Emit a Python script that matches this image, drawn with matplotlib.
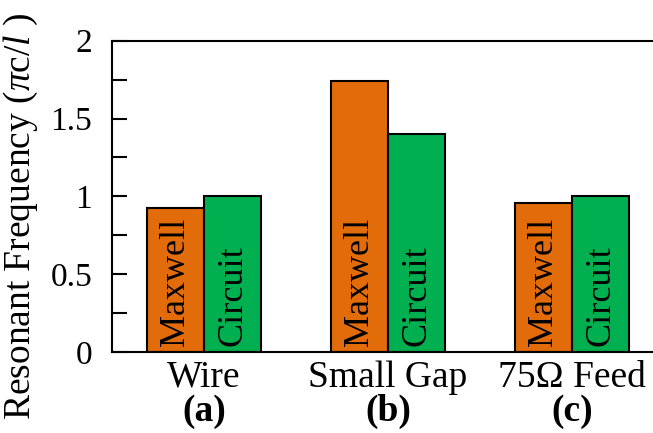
import numpy as np
import matplotlib.pyplot as plt

plt.rcParams["font.family"] = "Liberation Serif"
plt.rcParams["mathtext.fontset"] = "custom"
plt.rcParams["mathtext.rm"] = "Liberation Serif"
plt.rcParams["mathtext.it"] = "Liberation Serif:italic"

categories = ["Wire", "Small Gap", "75\u03a9 Feed"]
letters = ["(a)", "(b)", "(c)"]
maxwell = [0.925, 1.74, 0.955]
circuit = [1.005, 1.40, 1.005]
series_names = ["Maxwell", "Circuit"]

orange = "#E36C0A"
green = "#00B050"

fig = plt.figure(figsize=(6.53, 4.33), dpi=100)
ax = fig.add_axes([0.171, 0.187, 0.829, 0.719])

x = np.arange(len(categories))
w = 0.31
b1 = ax.bar(x - w / 2, maxwell, w, color=orange, edgecolor="black", linewidth=1.5)
b2 = ax.bar(x + w / 2, circuit, w, color=green, edgecolor="black", linewidth=1.5)

for bars, name in zip([b1, b2], series_names):
    for r in bars:
        ax.text(r.get_x() + r.get_width() / 2, 0.04, name, rotation=90,
                ha="center", va="bottom", fontsize=26)

ax.set_xlim(-0.502, 2.44)
ax.set_ylim(0, 2)
ax.set_yticks(np.arange(0, 2.01, 0.5))
ax.set_yticklabels(["0", "0.5", "1", "1.5", "2"], fontsize=24)
ax.set_yticks(np.arange(0, 2.01, 0.25), minor=True)
ax.tick_params(axis="y", which="both", direction="in", length=11, width=1.5, pad=14)
ax.set_xticks(x)
ax.set_xticklabels(categories, fontsize=27)
ax.tick_params(axis="x", length=0, pad=6)

for xi, lab in zip(x, letters):
    ax.text(xi, -0.19, lab, ha="center", va="center", fontsize=27, fontweight="bold",
            transform=ax.get_xaxis_transform())

ax.spines["right"].set_visible(False)
for s in ["left", "top", "bottom"]:
    ax.spines[s].set_linewidth(1.5)

ax.set_ylabel(r"Resonant Frequency ($\pi$c/$l$ )", fontsize=27)
ax.yaxis.set_label_coords(-0.1325, 0.437)

fig.savefig("out.png", dpi=100)
